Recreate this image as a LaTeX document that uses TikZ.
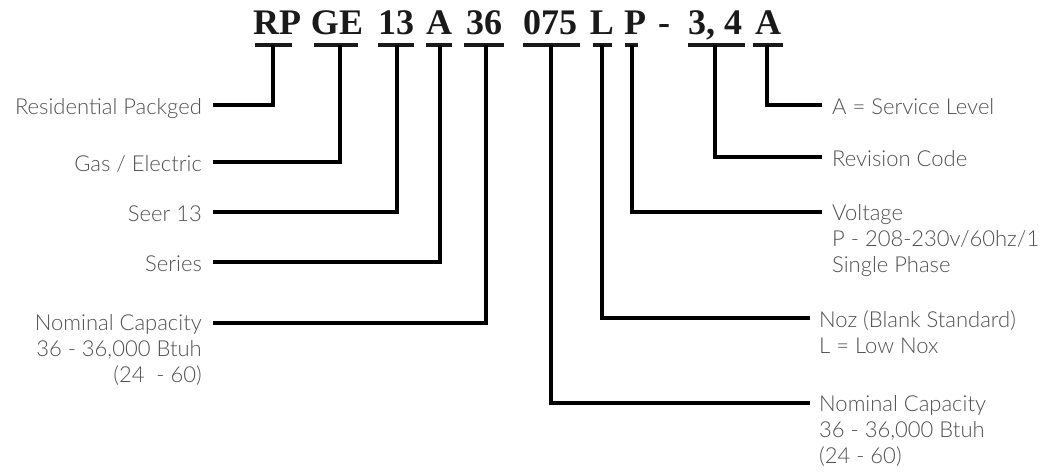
\documentclass[tikz,border=0pt]{standalone}
\usepackage{fontspec}
\setmainfont{Lato}[UprightFont=* Light]
\newfontfamily\codefont{Liberation Serif}
\definecolor{labelgray}{HTML}{505050}
\definecolor{codeblack}{HTML}{1A1A1A}
\newcommand{\rlines}[1]{\begin{tabular}[t]{@{}r@{}}#1\end{tabular}}
\newcommand{\llines}[1]{\begin{tabular}[t]{@{}l@{}}#1\end{tabular}}
\begin{document}
\begin{tikzpicture}[x=1pt,y=-1pt,
  code/.style={font=\codefont\bfseries\fontsize{36}{40}\selectfont, text=codeblack, inner sep=0pt, anchor=base},
  labl/.style={font=\fontsize{22}{26}\selectfont, text=labelgray, inner sep=0pt, anchor=base east},
  labr/.style={font=\fontsize{22}{26}\selectfont, text=labelgray, inner sep=0pt, anchor=base west},
  bar/.style={line width=4pt, draw=codeblack},
  conn/.style={line width=3.6pt, draw=black, line join=miter}]
\useasboundingbox (0,0) rectangle (1045,472);

% code letters
\node[code] (cRP) at (277,34) {RP};
\node[code] (cGE) at (337,34) {GE};
\node[code] (c13) at (396,34) {13};
\node[code] (cA)  at (439,34) {A};
\node[code] (c36) at (484,34) {36};
\node[code] (c075) at (550,34) {075};
\node[code] (cL)  at (602,34) {L};
\node[code] (cP)  at (635,34) {P};
\node[code] (cdash) at (664,34) {-};
\node[code] (c34) at (715,34) {3, 4};
\node[code] (cA2) at (768,34) {A};

% underline bars
\draw[bar] (255,45) -- (292,45);
\draw[bar] (314,45) -- (358,45);
\draw[bar] (378,45) -- (414,45);
\draw[bar] (426,45) -- (452,45);
\draw[bar] (464,45) -- (504,45);
\draw[bar] (523,45) -- (580,45);
\draw[bar] (593,45) -- (612,45);
\draw[bar] (625,45) -- (638,45);
\draw[bar] (688,45) -- (745,45);
\draw[bar] (753,45) -- (783,45);

% stem tops
\coordinate (sRP) at (273,45);
\coordinate (sGE) at (340,45);
\coordinate (s13) at (397,45);
\coordinate (sA) at (440,45);
\coordinate (s36) at (486,45);
\coordinate (s075) at (551,45);
\coordinate (sL) at (602,45);
\coordinate (sP) at (632,45);
\coordinate (s34) at (715,45);
\coordinate (sA2) at (767,45);

% line ends
\coordinate (eRP) at (213,105);
\coordinate (eGE) at (213,162);
\coordinate (e13) at (213,212);
\coordinate (eA) at (213,262);
\coordinate (e36) at (213,323);
\coordinate (eA2) at (822,105);
\coordinate (e34) at (822,157);
\coordinate (eP) at (822,212);
\coordinate (eL) at (810,318);
\coordinate (e075) at (810,403);

% labels left
\node[labl] (lRP) at (202,114) {Residential Packged};
\node[labl] (lGE) at (202,171) {Gas / Electric};
\node[labl] (l13) at (202,221) {Seer 13};
\node[labl] (lA) at (202,271) {Series};
\node[labl] (l36) at (202,330) {\rlines{Nominal Capacity\\36 - 36,000 Btuh\\(24\ \ - 60)}};

% labels right
\node[labr] (lA2) at (832,114) {A = Service Level};
\node[labr] (l34) at (832,166) {Revision Code};
\node[labr] (lP) at (832,220) {\llines{Voltage\\P - 208-230v/60hz/1\\Single Phase}};
\node[labr] (lL) at (819,327) {\llines{Noz (Blank Standard)\\L = Low Nox}};
\node[labr] (l075) at (819,411) {\llines{Nominal Capacity\\36 - 36,000 Btuh\\(24 - 60)}};

% connectors
\draw[conn] (sRP) |- (eRP);
\draw[conn] (sGE) |- (eGE);
\draw[conn] (s13) |- (e13);
\draw[conn] (sA) |- (eA);
\draw[conn] (s36) |- (e36);
\draw[conn] (sA2) |- (eA2);
\draw[conn] (s34) |- (e34);
\draw[conn] (sP) |- (eP);
\draw[conn] (sL) |- (eL);
\draw[conn] (s075) |- (e075);
\end{tikzpicture}
\end{document}
